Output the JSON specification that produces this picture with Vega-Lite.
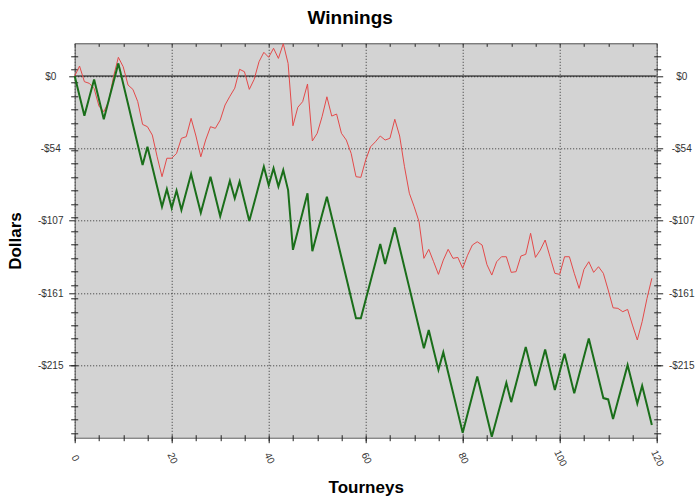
{
  "$schema": "https://vega.github.io/schema/vega-lite/v6.json",
  "width": 582,
  "height": 394.4,
  "autosize": "none",
  "padding": {"left": 74.7, "top": 43.3, "right": 43.3, "bottom": 60.3},
  "title": {"text": "Winnings", "font": "Liberation Sans", "fontSize": 19, "fontWeight": "bold", "color": "#000", "anchor": "middle", "frame": "bounds", "offset": 14},
  "datasets": {
    "green": [
      {"t":0,"v":0},{"t":1,"v":-14.8},{"t":2,"v":-29.5},{"t":3,"v":-16},{"t":4,"v":-2.5},{"t":5,"v":-17.3},{"t":6,"v":-32},{"t":7,"v":-18.2},{"t":8,"v":-4.4},{"t":9,"v":9.4},
      {"t":10,"v":-5.7},{"t":11,"v":-20.8},{"t":12,"v":-35.9},{"t":13,"v":-51},{"t":14,"v":-66},{"t":15,"v":-52.5},{"t":16,"v":-67.3},{"t":17,"v":-82.2},{"t":18,"v":-97},{"t":19,"v":-84},
      {"t":20,"v":-98},{"t":21,"v":-85},{"t":22,"v":-99.5},{"t":23,"v":-86.1},{"t":24,"v":-72.7},{"t":25,"v":-87.1},{"t":26,"v":-101.5},{"t":27,"v":-88.1},{"t":28,"v":-74.7},{"t":29,"v":-89.4},
      {"t":30,"v":-104},{"t":31,"v":-90.9},{"t":32,"v":-77.7},{"t":33,"v":-90.8},{"t":34,"v":-78.4},{"t":35,"v":-93},{"t":36,"v":-107.6},{"t":37,"v":-94.2},{"t":38,"v":-80.7},{"t":39,"v":-67.3},
      {"t":40,"v":-81},{"t":41,"v":-68.5},{"t":42,"v":-82},{"t":43,"v":-69.8},{"t":44,"v":-84.6},{"t":45,"v":-129},{"t":46,"v":-115},{"t":47,"v":-101},{"t":48,"v":-87},{"t":49,"v":-130},
      {"t":50,"v":-116.5},{"t":51,"v":-103},{"t":52,"v":-89.6},{"t":53,"v":-104.6},{"t":54,"v":-119.6},{"t":55,"v":-134.7},{"t":56,"v":-149.7},{"t":57,"v":-164.8},{"t":58,"v":-179.8},{"t":59,"v":-179.8},
      {"t":60,"v":-166},{"t":61,"v":-152.3},{"t":62,"v":-138.5},{"t":63,"v":-124.7},{"t":64,"v":-139.5},{"t":65,"v":-125.9},{"t":66,"v":-112.3},{"t":67,"v":-127.3},{"t":68,"v":-142.2},{"t":69,"v":-157.2},
      {"t":70,"v":-172.1},{"t":71,"v":-187.1},{"t":72,"v":-202},{"t":73,"v":-188.5},{"t":74,"v":-203.3},{"t":75,"v":-218},{"t":76,"v":-205},{"t":77,"v":-220},{"t":78,"v":-234.9},{"t":79,"v":-249.8},
      {"t":80,"v":-264.7},{"t":81,"v":-250.8},{"t":82,"v":-236.9},{"t":83,"v":-223},{"t":84,"v":-237.9},{"t":85,"v":-252.8},{"t":86,"v":-267.7},{"t":87,"v":-254.3},{"t":88,"v":-241},{"t":89,"v":-227.6},
      {"t":90,"v":-242},{"t":91,"v":-228.3},{"t":92,"v":-214.7},{"t":93,"v":-201},{"t":94,"v":-215.5},{"t":95,"v":-230},{"t":96,"v":-216.5},{"t":97,"v":-203},{"t":98,"v":-218},{"t":99,"v":-233},
      {"t":100,"v":-219.5},{"t":101,"v":-206},{"t":102,"v":-220.8},{"t":103,"v":-235.5},{"t":104,"v":-221.9},{"t":105,"v":-208.3},{"t":106,"v":-194.7},{"t":107,"v":-209.5},{"t":108,"v":-224.2},{"t":109,"v":-239},
      {"t":110,"v":-240},{"t":111,"v":-254.6},{"t":112,"v":-241.2},{"t":113,"v":-227.9},{"t":114,"v":-214.5},{"t":115,"v":-228.8},{"t":116,"v":-243},{"t":117,"v":-229.8},{"t":118,"v":-244.4},{"t":119,"v":-259}
    ],
    "red": [
      {"t":0,"v":0},{"t":1,"v":7.4},{"t":2,"v":-4.2},{"t":3,"v":-5.4},{"t":4,"v":-9.2},{"t":5,"v":-22.3},{"t":6,"v":-26.5},{"t":7,"v":-19},{"t":8,"v":-0.5},{"t":9,"v":13.9},
      {"t":10,"v":6.9},{"t":11,"v":-6.7},{"t":12,"v":-9.9},{"t":13,"v":-19},{"t":14,"v":-35.9},{"t":15,"v":-37.6},{"t":16,"v":-43.8},{"t":17,"v":-59.9},{"t":18,"v":-74.7},{"t":19,"v":-61},
      {"t":20,"v":-61},{"t":21,"v":-57.4},{"t":22,"v":-46.2},{"t":23,"v":-45},{"t":24,"v":-31.4},{"t":25,"v":-44.5},{"t":26,"v":-59.9},{"t":27,"v":-47.5},{"t":28,"v":-37.6},{"t":29,"v":-38.8},
      {"t":30,"v":-32.7},{"t":31,"v":-21.5},{"t":32,"v":-15},{"t":33,"v":-9},{"t":34,"v":5},{"t":35,"v":3.2},{"t":36,"v":-9.9},{"t":37,"v":-2.5},{"t":38,"v":10.6},{"t":39,"v":17.6},
      {"t":40,"v":13.9},{"t":41,"v":20.6},{"t":42,"v":13.1},{"t":43,"v":24},{"t":44,"v":9.4},{"t":45,"v":-36.9},{"t":46,"v":-23.2},{"t":47,"v":-19},{"t":48,"v":-5.9},{"t":49,"v":-48.2},
      {"t":50,"v":-42.5},{"t":51,"v":-30.2},{"t":52,"v":-15.4},{"t":53,"v":-29.7},{"t":54,"v":-28.2},{"t":55,"v":-42.5},{"t":56,"v":-47.5},{"t":57,"v":-57.4},{"t":58,"v":-74.7},{"t":59,"v":-75.2},
      {"t":60,"v":-62.3},{"t":61,"v":-52.5},{"t":62,"v":-48.8},{"t":63,"v":-44.5},{"t":64,"v":-47.5},{"t":65,"v":-46.2},{"t":66,"v":-32.1},{"t":67,"v":-44.5},{"t":68,"v":-67.3},{"t":69,"v":-87},
      {"t":70,"v":-97},{"t":71,"v":-108.1},{"t":72,"v":-135.3},{"t":73,"v":-128.6},{"t":74,"v":-137.8},{"t":75,"v":-147.2},{"t":76,"v":-136.6},{"t":77,"v":-128.6},{"t":78,"v":-135.3},{"t":79,"v":-134.6},
      {"t":80,"v":-142.7},{"t":81,"v":-133},{"t":82,"v":-125.4},{"t":83,"v":-123},{"t":84,"v":-125.4},{"t":85,"v":-140},{"t":86,"v":-147.7},{"t":87,"v":-137.8},{"t":88,"v":-134.1},{"t":89,"v":-134.1},
      {"t":90,"v":-145.7},{"t":91,"v":-145.2},{"t":92,"v":-133.6},{"t":93,"v":-132.3},{"t":94,"v":-116.7},{"t":95,"v":-134.6},{"t":96,"v":-129.1},{"t":97,"v":-121.7},{"t":98,"v":-134.1},{"t":99,"v":-146.4},
      {"t":100,"v":-147.2},{"t":101,"v":-134.1},{"t":102,"v":-134.1},{"t":103,"v":-146.4},{"t":104,"v":-157.6},{"t":105,"v":-143.5},{"t":106,"v":-137.8},{"t":107,"v":-145.7},{"t":108,"v":-141.5},{"t":109,"v":-146.4},
      {"t":110,"v":-158.8},{"t":111,"v":-172},{"t":112,"v":-172.4},{"t":113,"v":-174.9},{"t":114,"v":-173.2},{"t":115,"v":-184.8},{"t":116,"v":-195.9},{"t":117,"v":-182.3},{"t":118,"v":-165},{"t":119,"v":-150.1}
    ]
  },
  "layer": [
    {
      "data": {"values": [{}]},
      "mark": {"type": "rule", "color": "#000", "strokeWidth": 1},
      "encoding": {
        "y": {"datum": 0, "type": "quantitative", "scale": {"domain": [-268.4, 24.3], "nice": false, "zero": false},
          "axis": {"orient": "right", "values": [0, -53.7, -107.4, -161.1, -214.8], "labelExpr": "(datum.value < 0 ? '-$' : '$') + format(abs(datum.value), 'd')", "tickSize": 6, "labelPadding": 18.5, "labelAlign": "center", "labelBaseline": "middle", "grid": false, "title": null, "domain": true}}
      }
    },
    {
      "data": {"name": "red"},
      "mark": {"type": "line", "color": "#e34a4a", "strokeWidth": 1},
      "encoding": {
        "x": {"field": "t", "type": "quantitative", "scale": {"domain": [0, 120], "nice": false, "zero": false},
          "axis": {"orient": "bottom", "values": [0, 20, 40, 60, 80, 100, 120], "format": "d", "labelAngle": 65, "labelAlign": "center", "labelBaseline": "middle", "labelPadding": 15, "tickSize": 5, "grid": true, "title": "Tourneys", "titlePadding": 12, "domain": true}},
        "y": {"field": "v", "type": "quantitative", "scale": {"domain": [-268.4, 24.3], "nice": false, "zero": false},
          "axis": {"orient": "left", "values": [0, -53.7, -107.4, -161.1, -214.8], "labelExpr": "(datum.value < 0 ? '-$' : '$') + format(abs(datum.value), 'd')", "tickSize": 6, "labelPadding": 18.5, "labelAlign": "center", "labelBaseline": "middle", "grid": true, "title": "Dollars", "titlePadding": 13, "domain": true}}
      }
    },
    {
      "data": {"name": "green"},
      "mark": {"type": "line", "color": "#1a6e1a", "strokeWidth": 2},
      "encoding": {
        "x": {"field": "t", "type": "quantitative", "scale": {"domain": [0, 120], "nice": false, "zero": false},
          "axis": {"orient": "bottom", "values": [0,5,10,15,20,25,30,35,40,45,50,55,60,65,70,75,80,85,90,95,100,105,110,115,120], "offset": 3, "tickSize": -6, "labels": false, "domain": false, "grid": false, "title": null}},
        "y": {"field": "v", "type": "quantitative", "scale": {"domain": [-268.4, 24.3], "nice": false, "zero": false},
          "axis": {"orient": "left", "values": [15,5,-5,-15,-25,-35,-45,-55,-65,-75,-85,-95,-105,-115,-125,-135,-145,-155,-165,-175,-185,-195,-205,-215,-225,-235,-245,-255,-265], "offset": 4, "tickSize": -7, "labels": false, "domain": false, "grid": false, "title": null}}
      }
    },
    {
      "data": {"name": "green"},
      "mark": {"type": "line", "strokeOpacity": 0},
      "encoding": {
        "x": {"field": "t", "type": "quantitative", "scale": {"domain": [0, 120], "nice": false, "zero": false},
          "axis": {"orient": "top", "values": [0,5,10,15,20,25,30,35,40,45,50,55,60,65,70,75,80,85,90,95,100,105,110,115,120], "tickSize": -3, "labels": false, "domain": true, "grid": false, "title": null}},
        "y": {"field": "v", "type": "quantitative", "scale": {"domain": [-268.4, 24.3], "nice": false, "zero": false},
          "axis": {"orient": "right", "values": [15,5,-5,-15,-25,-35,-45,-55,-65,-75,-85,-95,-105,-115,-125,-135,-145,-155,-165,-175,-185,-195,-205,-215,-225,-235,-245,-255,-265], "offset": 4, "tickSize": -7, "labels": false, "domain": false, "grid": false, "title": null}}
      }
    }
  ],
  "resolve": {"axis": {"x": "independent", "y": "independent"}},
  "config": {
    "view": {"fill": "#d3d3d3", "stroke": null},
    "axis": {"domainColor": "#555", "domainWidth": 1, "tickColor": "#222", "tickWidth": 1, "labelColor": "#333", "labelFont": "Liberation Sans", "labelFontSize": 10, "titleFont": "Liberation Sans", "titleFontSize": 17, "titleFontWeight": "bold", "titleColor": "#000", "gridColor": "#222", "gridDash": [1, 2], "gridOpacity": 0.9, "gridWidth": 1}
  }
}
